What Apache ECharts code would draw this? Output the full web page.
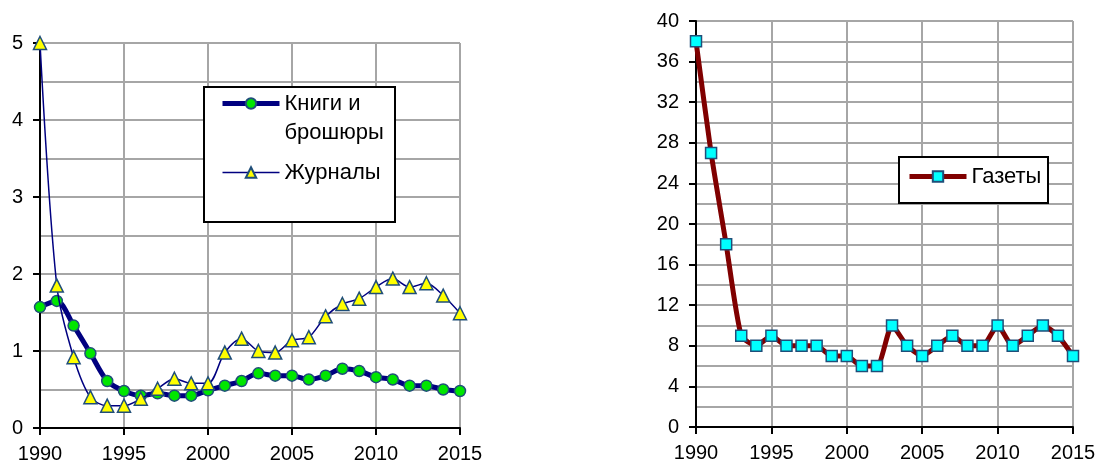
<!DOCTYPE html>
<html>
<head>
<meta charset="utf-8">
<script src="https://cdn.jsdelivr.net/npm/echarts@6/dist/echarts.min.js"></script>
<style>
  html, body { margin: 0; padding: 0; background: #fff; }
  #main { width: 1098px; height: 461px; }
</style>
</head>
<body>
<div id="main"></div>
<script>
// годы
var years = [1990, 1991, 1992, 1993, 1994, 1995, 1996, 1997, 1998, 1999, 2000, 2001, 2002,
             2003, 2004, 2005, 2006, 2007, 2008, 2009, 2010, 2011, 2012, 2013, 2014, 2015];
// Книги и брошюры
var books = [1.57, 1.65, 1.33, 0.97, 0.61, 0.48, 0.42, 0.45, 0.42, 0.42, 0.49, 0.55, 0.61,
             0.71, 0.68, 0.68, 0.63, 0.68, 0.77, 0.74, 0.66, 0.63, 0.55, 0.55, 0.50, 0.48];
// Журналы
var journals = [5.0, 1.85, 0.92, 0.40, 0.29, 0.29, 0.38, 0.51, 0.64, 0.58, 0.58, 0.98, 1.16,
                1.00, 0.98, 1.14, 1.18, 1.45, 1.61, 1.68, 1.83, 1.94, 1.83, 1.88, 1.72, 1.49];
// Газеты
var papers = [38, 27, 18, 9, 8, 9, 8, 8, 8, 7, 7, 6, 6,
              10, 8, 7, 8, 9, 8, 8, 10, 8, 9, 10, 9, 7];

function pairs(vals) {
  var out = [];
  for (var i = 0; i < years.length; i++) out.push([years[i], vals[i]]);
  return out;
}

var font = '"Liberation Sans", Arial, sans-serif';
var gridColor = '#a6a6a6';

function xAxisOpt(idx) {
  return {
    type: 'value', gridIndex: idx, min: 1990, max: 2015, interval: 5,
    axisLine: { onZero: false, lineStyle: { color: '#000', width: 2 } },
    axisTick: { show: true, length: 7, lineStyle: { color: '#000', width: 2 } },
    axisLabel: { color: '#000', fontSize: 20, fontFamily: font, margin: 16,
                 formatter: function (v) { return String(v); } },
    splitLine: { show: true, lineStyle: { color: gridColor, width: 2 } }
  };
}
function yAxisOpt(idx, max, interval) {
  return {
    type: 'value', gridIndex: idx, min: 0, max: max, interval: interval,
    axisLine: { show: true, lineStyle: { color: '#000', width: 2 } },
    axisTick: { show: true, length: 7, lineStyle: { color: '#000', width: 2 } },
    axisLabel: { color: '#000', fontSize: 20, fontFamily: font, margin: 17 },
    splitLine: { show: true, lineStyle: { color: gridColor, width: 2 } },
    minorTick: { show: false, splitNumber: 2 },
    minorSplitLine: { show: true, lineStyle: { color: gridColor, width: 2 } }
  };
}

var chart = echarts.init(document.getElementById('main'));
chart.setOption({
  animation: false,
  backgroundColor: '#fff',
  textStyle: { fontFamily: font },
  grid: [
    { left: 40, right: 638, top: 43, bottom: 33, outerBoundsMode: 'none' },
    { left: 696, right: 25, top: 21, bottom: 34, outerBoundsMode: 'none' }
  ],
  xAxis: [xAxisOpt(0), xAxisOpt(1)],
  yAxis: [yAxisOpt(0, 5, 1), yAxisOpt(1, 40, 4)],
  graphic: [
    { type: 'rect', shape: { x: 204, y: 87, width: 191, height: 135 },
      style: { fill: '#fff', stroke: '#000', lineWidth: 2 }, z: 10 },
    { type: 'rect', shape: { x: 899, y: 157, width: 149, height: 46 },
      style: { fill: '#fff', stroke: '#000', lineWidth: 2 }, z: 10 }
  ],
  legend: [
    {
      data: ['Книги и брошюры', 'Журналы'],
      orient: 'vertical', left: 220, top: 60, padding: 0,
      itemWidth: 57, itemHeight: 13, itemGap: 11, z: 20,
      lineStyle: { width: 'inherit' },
      formatter: function (name) {
        return name === 'Книги и брошюры' ? '\u00a0\nКниги и\nброшюры' : name;
      },
      textStyle: { color: '#000', fontSize: 22, fontFamily: font, lineHeight: 29 }
    },
    {
      data: ['Газеты'],
      left: 907, top: 162, padding: 0,
      itemWidth: 57, itemHeight: 13, z: 20,
      lineStyle: { width: 'inherit' },
      textStyle: { color: '#000', fontSize: 22, fontFamily: font, lineHeight: 29 }
    }
  ],
  series: [
    {
      name: 'Книги и брошюры', type: 'line', xAxisIndex: 0, yAxisIndex: 0,
      data: pairs(books), smooth: 0.3,
      lineStyle: { color: '#000080', width: 5 },
      symbol: 'circle', symbolSize: 11,
      itemStyle: { color: '#00e600', borderColor: '#1f4e79', borderWidth: 1.5 },
      z: 3
    },
    {
      name: 'Журналы', type: 'line', xAxisIndex: 0, yAxisIndex: 0,
      data: pairs(journals), smooth: 0.3,
      lineStyle: { color: '#000080', width: 1.5 },
      symbol: 'triangle', symbolSize: 13,
      itemStyle: { color: '#ffff00', borderColor: '#1f4e79', borderWidth: 1.5 },
      z: 4
    },
    {
      name: 'Газеты', type: 'line', xAxisIndex: 1, yAxisIndex: 1,
      data: pairs(papers), smooth: 0.2,
      lineStyle: { color: '#800000', width: 5 },
      symbol: 'rect', symbolSize: 11,
      itemStyle: { color: '#00ffff', borderColor: '#1f4e79', borderWidth: 1.5 },
      z: 3
    }
  ]
});
</script>
</body>
</html>
